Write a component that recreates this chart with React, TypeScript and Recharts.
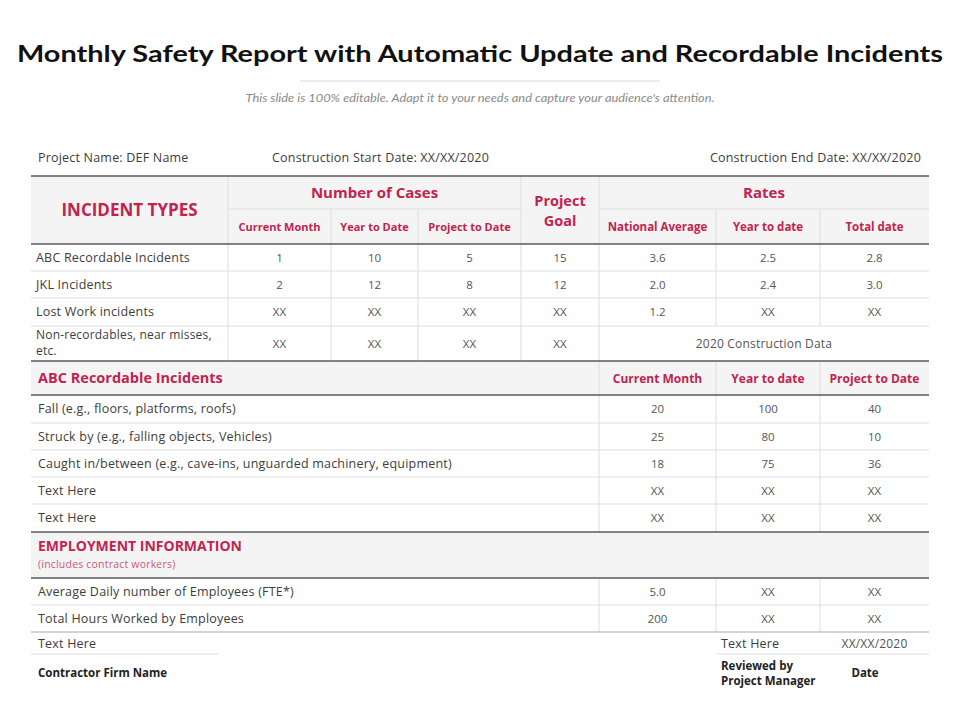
import { ComposedChart, Customized } from 'recharts'

// ---- data ----
const incidentTypes = ['ABC Recordable Incidents', 'JKL Incidents', 'Lost Work incidents', 'Non-recordables, near misses,|etc.']
const casesCurrentMonth = ['1', '2', 'XX', 'XX']
const casesYearToDate = ['10', '12', 'XX', 'XX']
const casesProjectToDate = ['5', '8', 'XX', 'XX']
const projectGoal = ['15', '12', 'XX', 'XX']
const rateNationalAverage = ['3.6', '2.0', '1.2']
const rateYearToDate = ['2.5', '2.4', 'XX']
const rateTotalDate = ['2.8', '3.0', 'XX']
const mergedRateNote = '2020 Construction Data'

const casesSubHeaders = ['Current Month', 'Year to Date', 'Project to Date']
const rateSubHeaders = ['National Average', 'Year to date', 'Total date']

const abcCategories = [
  'Fall (e.g., floors, platforms, roofs)',
  'Struck by (e.g., falling objects, Vehicles)',
  'Caught in/between (e.g., cave-ins, unguarded machinery, equipment)',
  'Text Here',
  'Text Here',
]
const abcHeaders = ['Current Month', 'Year to date', 'Project to Date']
const abcCurrentMonth = ['20', '25', '18', 'XX', 'XX']
const abcYearToDate = ['100', '80', '75', 'XX', 'XX']
const abcProjectToDate = ['40', '10', '36', 'XX', 'XX']

const employmentItems = ['Average Daily number of Employees (FTE*)', 'Total Hours Worked by Employees']
const empCurrentMonth = ['5.0', '200']
const empYearToDate = ['XX', 'XX']
const empProjectToDate = ['XX', 'XX']

// ---- style ----
const FONT = '"Open Sans", Lato, sans-serif'
const CRIMSON = '#c2234f'
const TEXT = '#3d3d3d'
const VALUE = '#555555'
const FILL = '#f4f4f4'
const DARK = '#5a5a5a'
const LIGHT = '#dedede'

// column edges
const L = 31
const R = 929
const c1 = [L, 228, 331, 418, 521, 599, 716, 820, R]
const c2 = [L, 599, 716, 820, R]

// row edges
const r1 = [244, 271, 298, 326, 361]
const r2 = [395, 423, 450, 477, 504, 532]
const r3 = [578, 605, 632]

const mid = (a: number, b: number) => (a + b) / 2

function T({ x, y, children, anchor = 'start', size = 12.5, weight = 400, fill = TEXT, ls = 0 }: any) {
  return (
    <text x={x} y={y} textAnchor={anchor} fontSize={size} fontWeight={weight} fill={fill}
      fontFamily={FONT} letterSpacing={ls}>
      {children}
    </text>
  )
}
// body label text
const B = (p: any) => <T ls={0.2} {...p} />

function HLine({ x1, x2, y, color = LIGHT, w = 1 }: any) {
  return <line x1={x1} x2={x2} y1={y} y2={y} stroke={color} strokeWidth={w} />
}
function VLine({ x, y1, y2, color = LIGHT }: any) {
  return <line x1={x} x2={x} y1={y1} y2={y2} stroke={color} strokeWidth={1} />
}

function Table() {
  const casesCols = [casesCurrentMonth, casesYearToDate, casesProjectToDate, projectGoal]
  const rateCols = [rateNationalAverage, rateYearToDate, rateTotalDate]
  const abcCols = [abcCurrentMonth, abcYearToDate, abcProjectToDate]
  const empCols = [empCurrentMonth, empYearToDate, empProjectToDate]

  return (
    <g>
      {/* title */}
      <text x={480} y={62} textAnchor="middle" fontSize={23} fontWeight={700} fill="#111"
        fontFamily="Lato, sans-serif" textLength={926} lengthAdjust="spacingAndGlyphs">
        Monthly Safety Report with Automatic Update and Recordable Incidents
      </text>
      <HLine x1={300} x2={660} y={81} color="#d8d8d8" />
      <text x={480} y={102} textAnchor="middle" fontSize={11} fontStyle="italic" fill="#8a8a8a"
        fontFamily="Lato, sans-serif" textLength={469} lengthAdjust="spacingAndGlyphs">
        This slide is 100% editable. Adapt it to your needs and capture your audience's attention.
      </text>

      {/* project info */}
      <B x={38} y={162}>Project Name: DEF Name</B>
      <B x={272} y={162}>Construction Start Date: XX/XX/2020</B>
      <B x={921} y={162} anchor="end">Construction End Date: XX/XX/2020</B>

      {/* fills */}
      <rect x={L} y={176} width={R - L} height={244 - 176} fill={FILL} />
      <rect x={L} y={361} width={R - L} height={395 - 361} fill={FILL} />
      <rect x={L} y={532} width={R - L} height={578 - 532} fill={FILL} />

      {/* section 1 grid */}
      <HLine x1={c1[1]} x2={c1[4]} y={209} />
      <HLine x1={c1[5]} x2={R} y={209} />
      {r1.slice(1, -1).map((y) => <HLine key={y} x1={L} x2={R} y={y} />)}
      <VLine x={c1[1]} y1={176} y2={361} />
      <VLine x={c1[2]} y1={209} y2={361} />
      <VLine x={c1[3]} y1={209} y2={361} />
      <VLine x={c1[4]} y1={176} y2={361} />
      <VLine x={c1[5]} y1={176} y2={361} />
      <VLine x={c1[6]} y1={209} y2={326} />
      <VLine x={c1[7]} y1={209} y2={326} />

      {/* section 2 grid */}
      {r2.slice(1, -1).map((y) => <HLine key={y} x1={L} x2={R} y={y} />)}
      {c2.slice(1, -1).map((x) => <VLine key={x} x={x} y1={361} y2={532} />)}

      {/* section 3 grid */}
      <HLine x1={L} x2={R} y={605} />
      {c2.slice(1, -1).map((x) => <VLine key={x} x={x} y1={578} y2={632} />)}
      <HLine x1={L} x2={R} y={632} color="#a8a8a8" />
      <HLine x1={L} x2={218} y={654} />
      <HLine x1={716} x2={R} y={654} />

      {/* heavy rules */}
      {[176, 244, 361, 395, 532, 578].map((y) => <HLine key={y} x1={L} x2={R} y={y} color={DARK} w={1.5} />)}

      {/* section 1 header text */}
      <T x={mid(c1[0], c1[1])} y={216} anchor="middle" size={17} weight={700} fill={CRIMSON}>INCIDENT TYPES</T>
      <T x={mid(c1[1], c1[4])} y={198} anchor="middle" size={15} weight={700} fill={CRIMSON}>Number of Cases</T>
      {casesSubHeaders.map((h, i) => (
        <T key={h} x={mid(c1[i + 1], c1[i + 2])} y={231} anchor="middle" size={11} weight={700} fill={CRIMSON}>{h}</T>
      ))}
      <T x={mid(c1[4], c1[5])} y={206} anchor="middle" size={14.5} weight={700} fill={CRIMSON}>Project</T>
      <T x={mid(c1[4], c1[5])} y={226} anchor="middle" size={14.5} weight={700} fill={CRIMSON}>Goal</T>
      <T x={mid(c1[5], R)} y={198} anchor="middle" size={15} weight={700} fill={CRIMSON}>Rates</T>
      {rateSubHeaders.map((h, i) => (
        <T key={h} x={mid(c1[i + 5], c1[i + 6])} y={231} anchor="middle" size={11.5} weight={700} fill={CRIMSON}>{h}</T>
      ))}

      {/* section 1 body */}
      {incidentTypes.map((name, i) => {
        const cy = mid(r1[i], r1[i + 1])
        const lines = name.split('|')
        return (
          <g key={i}>
            {lines.length === 1 ? (
              <B x={36} y={cy + 4}>{name}</B>
            ) : (
              lines.map((ln, k) => <B key={k} x={36} y={cy - 5 + k * 16} size={12}>{ln}</B>)
            )}
            {casesCols.map((col, j) => (
              <T key={j} x={mid(c1[j + 1], c1[j + 2])} y={cy + 4} anchor="middle" size={11.5} fill={VALUE}>{col[i]}</T>
            ))}
            {i < rateNationalAverage.length
              ? rateCols.map((col, j) => (
                  <T key={'r' + j} x={mid(c1[j + 5], c1[j + 6])} y={cy + 4} anchor="middle" size={11.5} fill={VALUE}>{col[i]}</T>
                ))
              : <B x={mid(c1[5], R)} y={cy + 4} anchor="middle" size={12} fill={VALUE}>{mergedRateNote}</B>}
          </g>
        )
      })}

      {/* section 2 */}
      <T x={38} y={383} size={14.5} weight={700} fill={CRIMSON}>ABC Recordable Incidents</T>
      {abcHeaders.map((h, i) => (
        <T key={h} x={mid(c2[i + 1], c2[i + 2])} y={383} anchor="middle" size={12} weight={700} fill={CRIMSON}>{h}</T>
      ))}
      {abcCategories.map((name, i) => {
        const cy = mid(r2[i], r2[i + 1])
        return (
          <g key={i}>
            <B x={38} y={cy + 4}>{name}</B>
            {abcCols.map((col, j) => (
              <T key={j} x={mid(c2[j + 1], c2[j + 2])} y={cy + 4} anchor="middle" size={11.5} fill={VALUE}>{col[i]}</T>
            ))}
          </g>
        )
      })}

      {/* section 3 */}
      <T x={38} y={551} size={14} weight={700} fill={CRIMSON}>EMPLOYMENT INFORMATION</T>
      <B x={38} y={568} size={10.5} fill="#c85a78">(includes contract workers)</B>
      {employmentItems.map((name, i) => {
        const cy = mid(r3[i], r3[i + 1])
        return (
          <g key={i}>
            <B x={38} y={cy + 4}>{name}</B>
            {empCols.map((col, j) => (
              <T key={j} x={mid(c2[j + 1], c2[j + 2])} y={cy + 4} anchor="middle" size={11.5} fill={VALUE}>{col[i]}</T>
            ))}
          </g>
        )
      })}

      {/* footer */}
      <B x={38} y={648}>Text Here</B>
      <B x={721} y={648}>Text Here</B>
      <B x={mid(c2[3], R)} y={648} anchor="middle" size={12} fill={VALUE}>XX/XX/2020</B>
      <T x={38} y={677} size={11.5} weight={700} fill="#222">Contractor Firm Name</T>
      <T x={721} y={670} size={11.5} weight={700} fill="#222">Reviewed by</T>
      <T x={721} y={685} size={11.5} weight={700} fill="#222">Project Manager</T>
      <T x={865} y={677} anchor="middle" size={11.5} weight={700} fill="#222">Date</T>
    </g>
  )
}

export default function App() {
  return (
    <div style={{ position: 'absolute', left: 0, top: 0, width: 960, height: 720, background: '#fff' }}>
      <ComposedChart width={960} height={720} margin={{ top: 0, right: 0, bottom: 0, left: 0 }} data={[]}>
        <Customized component={<Table />} />
      </ComposedChart>
    </div>
  )
}
